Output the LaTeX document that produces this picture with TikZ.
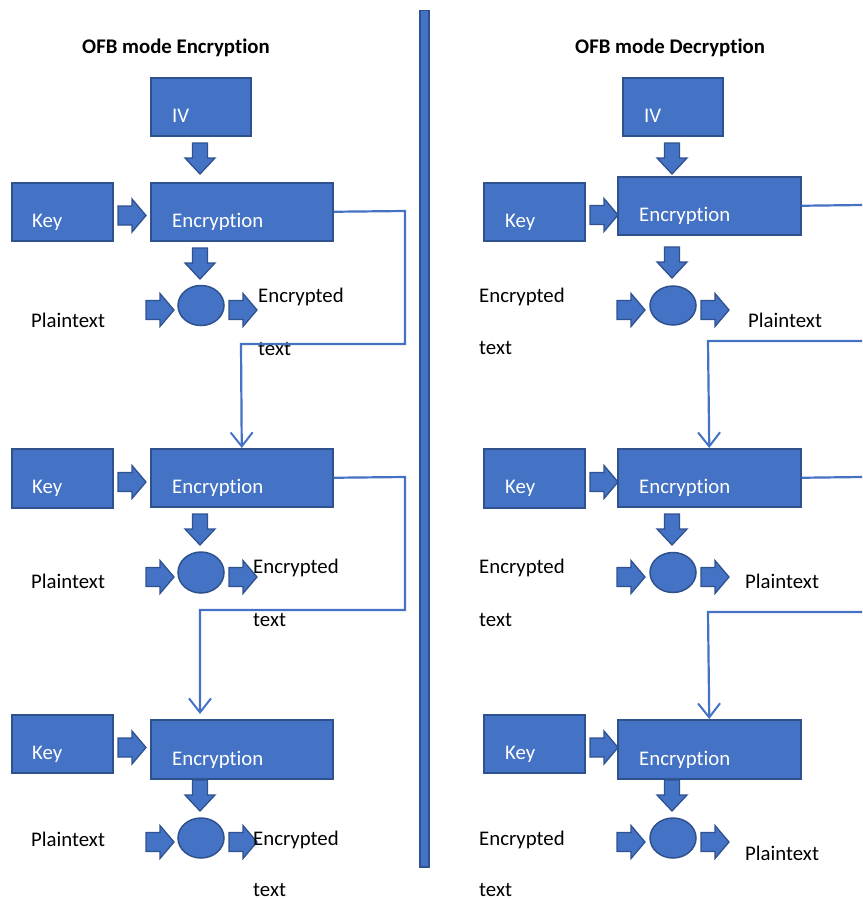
\documentclass[tikz,border=0pt]{standalone}
\usepackage{fontspec}
\setmainfont{Carlito}[Ligatures=NoCommon]
\usetikzlibrary{arrows.meta,shapes.geometric}
\definecolor{ofill}{HTML}{4472C4}
\definecolor{oline}{HTML}{2F528F}
\tikzset{
  blk/.style={fill=ofill,draw=oline,line width=1.5pt},
  box/.style={blk,rectangle,inner sep=0pt,anchor=north west},
  xorop/.style={blk,ellipse,inner sep=0pt},
  wlab/.style={anchor=base west,inner sep=0pt,text=white},
  blab/.style={anchor=base west,inner sep=0pt,text=black},
  conn/.style={draw=ofill,line width=2.2pt},
  connarr/.style={conn,-{Straight Barb[length=14pt,width=22pt,line width=2pt]}},
  rarrow/.pic={\filldraw[blk,line width=1.3pt] (0,-9.5) -- (14,-9.5) -- (14,-16.5) -- (28,0) -- (14,16.5) -- (14,9.5) -- (0,9.5) -- cycle;},
  darrow/.pic={\filldraw[blk,line width=1.3pt] (-7.5,0) -- (-7.5,15) -- (-15,15) -- (0,31) -- (15,15) -- (7.5,15) -- (7.5,0) -- cycle;}
}
\newcommand\boxtext[4]{% name, x, baseline, text
  \begin{scope}
    \clip (#2-10,#3-40) rectangle (#2+130,#3+2);
    \node[wlab] (#1) at (#2,#3) {#4};
  \end{scope}}
\begin{document}
\begin{tikzpicture}[x=1pt,y=-1pt,every node/.style={font=\fontsize{20.8}{25}\selectfont}]
\useasboundingbox (0,0) rectangle (862,899);
% divider
\node[box,minimum width=9pt,minimum height=856pt] (divider) at (419,10) {};
% titles
\node[blab,font=\fontsize{20.8}{25}\selectfont\bfseries] (titleL) at (82,53) {OFB mode Encryption};
\node[blab,font=\fontsize{20.8}{25}\selectfont\bfseries] (titleR) at (575,53) {OFB mode Decryption};

% ===== LEFT: Encryption =====
\node[box,minimum width=100pt,minimum height=58pt] (ivL) at (150,77) {};
\boxtext{ivLt}{172}{122}{IV}
\pic at (200,143) {darrow};
% row 1
\node[box,minimum width=101pt,minimum height=58pt] (keyL1) at (11,182) {};
\boxtext{keyL1t}{32}{227}{Key}
\pic at (118,215.5) {rarrow};
\node[box,minimum width=182pt,minimum height=58pt] (encL1) at (150,182) {};
\boxtext{encL1t}{172}{227}{Encryption}
\pic at (200,248) {darrow};
\node[xorop,minimum width=46pt,minimum height=40pt] (xL1) at (201,305.5) {};
\pic at (146,310) {rarrow};
\pic at (229,310) {rarrow};
\node[blab] (ptL1) at (31,327) {Plaintext};
\node[blab] (ctL1) at (258,302) {Encrypted};
\node[blab] (ctL1b) at (258,355) {text};
% row 2
\node[box,minimum width=101pt,minimum height=59pt] (keyL2) at (11,448) {};
\boxtext{keyL2t}{32}{493}{Key}
\pic at (118,482) {rarrow};
\node[box,minimum width=182pt,minimum height=58pt] (encL2) at (150,448) {};
\boxtext{encL2t}{172}{493}{Encryption}
\pic at (200,514) {darrow};
\node[xorop,minimum width=46pt,minimum height=41pt] (xL2) at (201,572.5) {};
\pic at (146,577) {rarrow};
\pic at (229,577) {rarrow};
\node[blab] (ptL2) at (31,588) {Plaintext};
\node[blab] (ctL2) at (253,573) {Encrypted};
\node[blab] (ctL2b) at (253,626) {text};
% row 3
\node[box,minimum width=101pt,minimum height=58pt] (keyL3) at (11,714) {};
\boxtext{keyL3t}{32}{759}{Key}
\pic at (118,747.5) {rarrow};
\node[box,minimum width=182pt,minimum height=59pt] (encL3) at (150,719) {};
\boxtext{encL3t}{172}{765}{Encryption}
\pic at (200,780) {darrow};
\node[xorop,minimum width=46pt,minimum height=40pt] (xL3) at (201,838) {};
\pic at (146,842) {rarrow};
\pic at (229,842) {rarrow};
\node[blab] (ptL3) at (31,846) {Plaintext};
\node[blab] (ctL3) at (253,845) {Encrypted};
\node[blab,text depth=0pt] (ctL3b) at (253,896) {text};
% feedback connectors
\draw[connarr] (encL1.east) -- (405,211) -- (405,344) -- (241,344) -- (encL2.north);
\draw[connarr,shorten >=5pt] (encL2.east) -- (405,477) -- (405,610) -- (200,610) -- (200,719);

% ===== RIGHT: Decryption =====
\node[box,minimum width=100pt,minimum height=58pt] (ivR) at (622,77) {};
\boxtext{ivRt}{644}{122}{IV}
\pic at (672,143) {darrow};
% row 1
\node[box,minimum width=101pt,minimum height=58pt] (keyR1) at (483,182) {};
\boxtext{keyR1t}{505}{227}{Key}
\pic at (590,215) {rarrow};
\node[box,minimum width=183pt,minimum height=58pt] (encR1) at (617,176) {};
\boxtext{encR1t}{639}{221}{Encryption}
\pic at (672,247) {darrow};
\node[xorop,minimum width=46pt,minimum height=39pt] (xR1) at (673,305.5) {};
\pic at (617,310) {rarrow};
\pic at (701,310) {rarrow};
\node[blab] (ctR1) at (479,302) {Encrypted};
\node[blab] (ctR1b) at (479,354) {text};
\node[blab] (ptR1) at (748,327) {Plaintext};
% row 2
\node[box,minimum width=101pt,minimum height=59pt] (keyR2) at (483,448) {};
\boxtext{keyR2t}{505}{493}{Key}
\pic at (590,482) {rarrow};
\node[box,minimum width=183pt,minimum height=58pt] (encR2) at (617,448) {};
\boxtext{encR2t}{639}{493}{Encryption}
\pic at (672,514) {darrow};
\node[xorop,minimum width=46pt,minimum height=40pt] (xR2) at (673,572.5) {};
\pic at (617,577) {rarrow};
\pic at (701,577) {rarrow};
\node[blab] (ctR2) at (479,573) {Encrypted};
\node[blab] (ctR2b) at (479,626) {text};
\node[blab] (ptR2) at (745,588) {Plaintext};
% row 3
\node[box,minimum width=101pt,minimum height=58pt] (keyR3) at (483,714) {};
\boxtext{keyR3t}{505}{759}{Key}
\pic at (590,747.5) {rarrow};
\node[box,minimum width=183pt,minimum height=59pt] (encR3) at (617,719) {};
\boxtext{encR3t}{639}{765}{Encryption}
\pic at (672,780) {darrow};
\node[xorop,minimum width=46pt,minimum height=40pt] (xR3) at (673,838) {};
\pic at (617,842) {rarrow};
\pic at (701,842) {rarrow};
\node[blab] (ctR3) at (479,845) {Encrypted};
\node[blab,text depth=0pt] (ctR3b) at (479,896) {text};
\node[blab] (ptR3) at (745,860) {Plaintext};
% connectors running off the right edge
\coordinate (edgeR1) at (862,205);
\coordinate (edgeR1b) at (862,341);
\coordinate (edgeR2) at (862,477);
\coordinate (edgeR2b) at (862,612);
\draw[conn] (encR1.east) -- (edgeR1);
\draw[connarr] (edgeR1b) -- (708,341) -- (encR1.center |- encR2.north);
\draw[conn] (encR2.east) -- (edgeR2);
\draw[connarr] (edgeR2b) -- (708,612) -- (encR2.center |- encR3.north);
\end{tikzpicture}
\end{document}
